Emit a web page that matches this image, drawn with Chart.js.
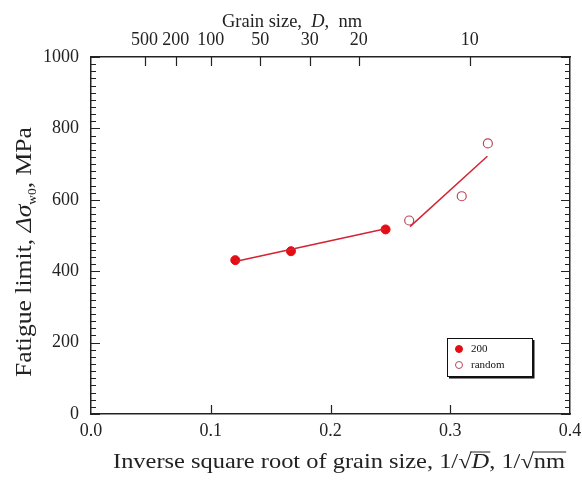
<!DOCTYPE html>
<html>
<head>
<meta charset="utf-8">
<script src="https://cdn.jsdelivr.net/npm/chart.js@4/dist/chart.umd.min.js"></script>
<style>
  html, body { margin: 0; padding: 0; background: #fff; }
  #wrap { width: 582px; height: 480px; }
</style>
</head>
<body>
<div id="wrap"><canvas id="chart" width="582" height="480"></canvas></div>
<script>
// values
const invSqrtD200 = [0.1205, 0.167, 0.246];
const fatigue200 = [431, 456, 517];
const invSqrtDRandom = [0.2657, 0.3096, 0.3314];
const fatigueRandom = [542, 610, 758];

// fitted lines (end points)
const fit200X = [0.1205, 0.246];
const fit200Y = [427, 519];
const fitRandomX = [0.2664, 0.331];
const fitRandomY = [525, 722];

// axis ticks
const xTicks = [0.0, 0.1, 0.2, 0.3, 0.4];
const yTicks = [0, 200, 400, 600, 800, 1000];
const grainSizes = [500, 200, 100, 50, 30, 20, 10];

const SERIF = "'Liberation Serif', 'DejaVu Serif', serif";
const RED = '#e40d12';
const LINE_RED = '#d42333';
const OPEN_RED = '#b9485a';

const toPoints = (xs, ys) => xs.map((x, i) => ({ x, y: ys[i] }));

function runsWidth(ctx, runs) {
    return runs.reduce((sum, run) => {
        ctx.font = run.font;
        return sum + ctx.measureText(run.text).width;
    }, 0);
}

// draw text runs centred on (0, 0) in the current transform, stretched to targetWidth
function drawRuns(ctx, runs, targetWidth) {
    const total = runsWidth(ctx, runs);
    ctx.save();
    ctx.scale(targetWidth / total, 1);
    let x = -total / 2;
    runs.forEach(run => {
        ctx.font = run.font;
        ctx.fillText(run.text, x, run.dy || 0);
        const w = ctx.measureText(run.text).width;
        if (run.overline) {
            ctx.beginPath();
            ctx.lineWidth = 1;
            ctx.moveTo(x - 1, -run.overline);
            ctx.lineTo(x + w + 1, -run.overline);
            ctx.stroke();
        }
        x += w;
    });
    ctx.restore();
}

// inward ticks, titles and the boxed legend
const decorations = {
    id: 'decorations',
    afterDraw(chart) {
        const ctx = chart.ctx;
        const area = chart.chartArea;
        const x = chart.scales.x;
        const y = chart.scales.y;
        ctx.save();
        ctx.strokeStyle = '#222';
        ctx.fillStyle = '#222';
        ctx.lineWidth = 1.2;

        // y ticks, left and right
        ctx.beginPath();
        for (let v = 0; v <= 1000; v += 20) {
            const py = Math.round(y.getPixelForValue(v)) + 0.5;
            const len = v % 200 === 0 ? 9 : 5;
            ctx.moveTo(area.left, py);
            ctx.lineTo(area.left + len, py);
            ctx.moveTo(area.right, py);
            ctx.lineTo(area.right - len, py);
        }
        // bottom ticks
        xTicks.slice(1, -1).forEach(v => {
            const px = Math.round(x.getPixelForValue(v)) + 0.5;
            ctx.moveTo(px, area.bottom);
            ctx.lineTo(px, area.bottom - 9);
        });
        // top ticks at grain sizes
        grainSizes.forEach(d => {
            const px = Math.round(x.getPixelForValue(1 / Math.sqrt(d))) + 0.5;
            ctx.moveTo(px, area.top);
            ctx.lineTo(px, area.top + 9);
        });
        ctx.stroke();

        ctx.textBaseline = 'alphabetic';

        // top title
        const topRuns = [
            { text: 'Grain size,  ', font: '18px ' + SERIF },
            { text: 'D', font: 'italic 18px ' + SERIF },
            { text: ',  nm', font: '18px ' + SERIF }
        ];
        ctx.save();
        ctx.translate(292, 27);
        drawRuns(ctx, topRuns, 140);
        ctx.restore();

        // bottom title
        const bn = '21px ' + SERIF;
        const botRuns = [
            { text: 'Inverse square root of grain size, 1/', font: bn },
            { text: '\u221A', font: bn },
            { text: 'D', font: 'italic 21px ' + SERIF, overline: 16 },
            { text: ', 1/', font: bn },
            { text: '\u221A', font: bn },
            { text: 'nm', font: bn, overline: 16 }
        ];
        ctx.save();
        ctx.translate(339, 468);
        drawRuns(ctx, botRuns, 452);
        ctx.restore();

        // y title, rotated
        const yn = '23px ' + SERIF;
        const yRuns = [
            { text: 'Fatigue limit, ', font: yn },
            { text: '\u0394\u03C3', font: 'italic 23px ' + SERIF },
            { text: 'w0', font: '12px ' + SERIF, dy: 5 },
            { text: ', MPa', font: yn }
        ];
        ctx.save();
        ctx.translate(31, 252);
        ctx.rotate(-Math.PI / 2);
        drawRuns(ctx, yRuns, 250);
        ctx.restore();

        // legend box
        const lx = 447, ly = 338, lw = 85, lh = 38;
        ctx.lineWidth = 1;
        ctx.strokeStyle = '#111';
        ctx.strokeRect(lx + 0.5, ly + 0.5, lw, lh);
        ctx.beginPath();
        ctx.lineWidth = 2;
        ctx.moveTo(lx + 2, ly + lh + 1.5);
        ctx.lineTo(lx + lw + 1.5, ly + lh + 1.5);
        ctx.lineTo(lx + lw + 1.5, ly + 2);
        ctx.stroke();
        ctx.font = '11px ' + SERIF;
        ctx.textBaseline = 'middle';
        chart.data.datasets.filter(ds => ds.inLegend).forEach((ds, i) => {
            const cy = ly + 11 + i * 16;
            ctx.beginPath();
            ctx.arc(lx + 12, cy, 3.5, 0, Math.PI * 2);
            ctx.fillStyle = ds.backgroundColor;
            ctx.fill();
            ctx.lineWidth = 1;
            ctx.strokeStyle = ds.borderColor;
            ctx.stroke();
            ctx.fillStyle = '#111';
            ctx.fillText(ds.label, lx + 24, cy);
        });
        ctx.restore();
    }
};

const tickFont = { family: SERIF, size: 18 };
const noPadding = scale => {
    scale.paddingLeft = 0;
    scale.paddingRight = 0;
    scale.paddingTop = 0;
    scale.paddingBottom = 0;
};

new Chart(document.getElementById('chart'), {
    type: 'scatter',
    data: {
        datasets: [
            {
                label: '200 fit',
                data: toPoints(fit200X, fit200Y),
                showLine: true,
                borderColor: LINE_RED,
                borderWidth: 1.5,
                pointRadius: 0
            },
            {
                label: 'random fit',
                data: toPoints(fitRandomX, fitRandomY),
                showLine: true,
                borderColor: LINE_RED,
                borderWidth: 1.5,
                pointRadius: 0
            },
            {
                label: '200',
                inLegend: true,
                data: toPoints(invSqrtD200, fatigue200),
                backgroundColor: RED,
                borderColor: RED,
                borderWidth: 1,
                pointRadius: 4.5
            },
            {
                label: 'random',
                inLegend: true,
                data: toPoints(invSqrtDRandom, fatigueRandom),
                backgroundColor: '#ffffff',
                borderColor: OPEN_RED,
                borderWidth: 1.2,
                pointRadius: 4.5
            }
        ]
    },
    options: {
        responsive: false,
        animation: false,
        layout: { padding: 0 },
        plugins: {
            legend: { display: false },
            tooltip: { enabled: false }
        },
        scales: {
            x: {
                type: 'linear',
                position: 'bottom',
                min: 0,
                max: 0.4,
                afterBuildTicks: scale => { scale.ticks = xTicks.map(v => ({ value: v })); },
                afterFit: scale => { scale.height = 66; noPadding(scale); },
                grid: { display: false, drawTicks: false },
                border: { display: true, color: '#222', width: 1.5 },
                ticks: {
                    font: tickFont,
                    color: '#222',
                    padding: 6,
                    maxRotation: 0,
                    autoSkip: false,
                    callback: v => v.toFixed(1)
                }
            },
            x2: {
                type: 'linear',
                position: 'top',
                min: 0,
                max: 0.4,
                afterBuildTicks: scale => { scale.ticks = grainSizes.map(d => ({ value: 1 / Math.sqrt(d) })); },
                afterFit: scale => { scale.height = 57; noPadding(scale); },
                grid: { display: false, drawTicks: false },
                border: { display: true, color: '#222', width: 1.5 },
                ticks: {
                    font: tickFont,
                    color: '#222',
                    padding: 6,
                    maxRotation: 0,
                    autoSkip: false,
                    callback: (v, i) => String(grainSizes[i])
                }
            },
            y: {
                type: 'linear',
                position: 'left',
                min: 0,
                max: 1000,
                afterBuildTicks: scale => { scale.ticks = yTicks.map(v => ({ value: v })); },
                afterFit: scale => { scale.width = 91; noPadding(scale); },
                grid: { display: false, drawTicks: false },
                border: { display: true, color: '#222', width: 1.5 },
                ticks: {
                    font: tickFont,
                    color: '#222',
                    padding: 12,
                    callback: v => String(v)
                }
            },
            y2: {
                type: 'linear',
                position: 'right',
                min: 0,
                max: 1000,
                afterFit: scale => { scale.width = 12; noPadding(scale); },
                grid: { display: false, drawTicks: false },
                border: { display: true, color: '#222', width: 1.5 },
                ticks: { display: false }
            }
        }
    },
    plugins: [decorations]
});
</script>
</body>
</html>
